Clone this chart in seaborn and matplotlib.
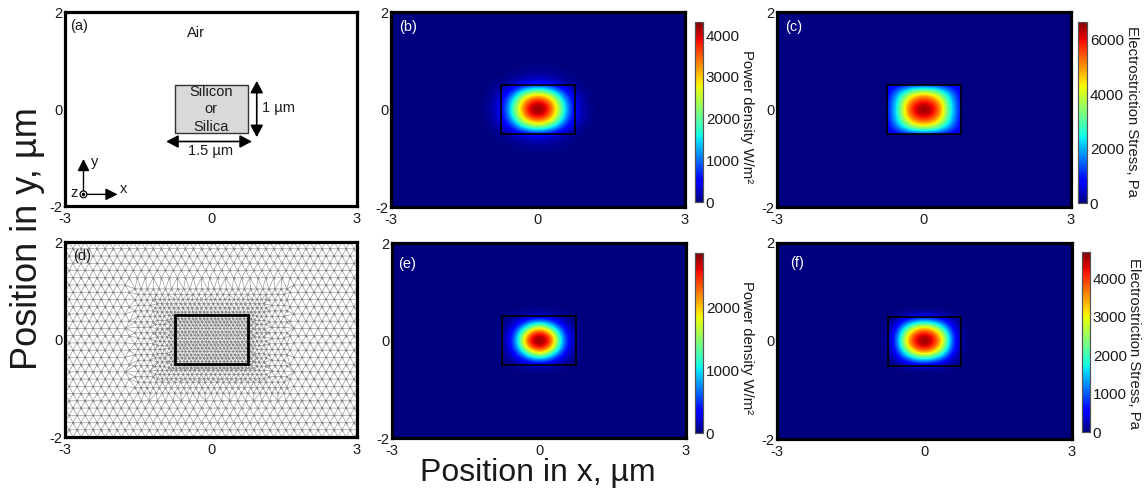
import numpy as np
import pandas as pd
import matplotlib
matplotlib.use("Agg")
import matplotlib.pyplot as plt
import matplotlib.tri as mtri
from matplotlib.patches import Rectangle, Circle
import seaborn as sns

# one quarter of each field, read off the colour rings, fraction of peak
# rows go up in y, columns go right in x, both every 0.125 um from the centre
b_field = [
    [1.00, .970, .850, .660, .450, .240, .120, .050, .020, .005],
    [.950, .910, .790, .610, .410, .220, .110, .050, .020, .005],
    [.760, .720, .630, .480, .300, .170, .090, .040, .015, .003],
    [.470, .440, .370, .270, .170, .100, .050, .020, .008, 0],
    [.140, .130, .110, .090, .060, .030, .020, .007, .002, 0],
    [.050, .050, .040, .030, .020, .010, .005, .002, 0, 0],
    [.020, .020, .015, .010, .008, .004, .002, 0, 0, 0],
    [.005, .005, .004, .003, .002, .001, 0, 0, 0, 0],
]
# (c) stops at the box edge, last row and column repeat the edge colour
c_field = [
    [1.00, .970, .870, .700, .450, .270, .120, .110],
    [.930, .910, .820, .660, .430, .260, .120, .110],
    [.800, .770, .680, .540, .370, .230, .110, .100],
    [.550, .520, .470, .360, .270, .170, .090, .080],
    [.150, .150, .140, .130, .110, .090, .070, .060],
    [.140, .140, .130, .120, .100, .080, .060, .050],
]
e_field = [
    [1.00, .960, .830, .500, .250, .090, .025, .005],
    [.940, .900, .710, .440, .220, .080, .020, .005],
    [.680, .600, .440, .280, .140, .050, .015, .003],
    [.300, .280, .200, .120, .060, .020, .008, 0],
    [.050, .050, .040, .030, .020, .008, .003, 0],
    [.010, .010, .008, .005, .003, 0, 0, 0],
]
f_field = [
    [1.00, .960, .850, .650, .360, .130, .030],
    [.940, .900, .770, .580, .320, .120, .030],
    [.720, .680, .560, .400, .220, .080, .020],
    [.350, .330, .270, .190, .100, .040, .010],
    [.080, .070, .060, .045, .025, .010, .003],
]

peaks = {"b": 4320, "c": 6650, "e": 2860, "f": 4680}
cbar_ticks = {"b": [0, 1000, 2000, 3000, 4000],
              "c": [0, 2000, 4000, 6000],
              "e": [0, 1000, 2000],
              "f": [0, 1000, 2000, 3000, 4000]}
cbar_labels = {"b": "Power density W/m²", "c": "Electrostriction Stress, Pa",
               "e": "Power density W/m²", "f": "Electrostriction Stress, Pa"}

box_w = 1.5
box_h = 1.0
x_range = 3
y_range = 2

# mesh spacing from the outside in, and how far each zone reaches past the box
mesh_steps = [0.165, 0.125, 0.095, 0.075]
mesh_margins = [(0.85, 0.62), (0.42, 0.36), (0.12, 0.12)]

W, H = 1146, 494
STEP = 0.125
NX, NY = 49, 33
FS = 10.5

sns.set_theme(style="white")
plt.rcParams["font.family"] = ["Liberation Sans", "DejaVu Sans"]
plt.rcParams["text.color"] = "#1a1a1a"

fig = plt.figure(figsize=(W / 100, H / 100), dpi=100)


def px_axes(x0, y0, x1, y1):
    return fig.add_axes([x0 / W, 1 - y1 / H, (x1 - x0) / W, (y1 - y0) / H])


def finish_frame(ax, lw=2.3):
    for s in ax.spines.values():
        s.set_visible(True)
        s.set_linewidth(lw)
        s.set_color("black")
    ax.tick_params(length=0, labelsize=FS, colors="#1a1a1a",
                   labelbottom=True, labelleft=True, bottom=True, left=True)
    ax.tick_params(axis="x", pad=4)
    ax.tick_params(axis="y", pad=2)


def to_table(quarter, peak):
    # mirror the quarter into the whole window, the rest stays zero
    grid = np.zeros((NY, NX))
    for j, row in enumerate(quarter):
        for i, v in enumerate(row):
            for sy in (-1, 1):
                for sx in (-1, 1):
                    grid[NY // 2 + sy * j, NX // 2 + sx * i] = v * peak
    return pd.DataFrame(grid)


def field_panel(key, quarter, frame, cbar, tag_xy, label_xy, clip_box=False):
    ax = px_axes(*frame)
    cax = px_axes(*cbar)
    table = to_table(quarter, peaks[key])
    sns.heatmap(table * (0 if clip_box else 1), ax=ax, cbar_ax=cax, cmap="jet", vmin=0, vmax=peaks[key],
                xticklabels=False, yticklabels=False,
                cbar_kws={"ticks": cbar_ticks[key]})

    def cx(v):
        return v / STEP + NX / 2

    def cy(v):
        return NY / 2 - v / STEP

    box = Rectangle((cx(-box_w / 2), cy(box_h / 2)), box_w / STEP, box_h / STEP,
                    fill=False, ec="black", lw=1.2, zorder=5)
    ax.add_patch(box)
    # smooth rendering of the same table over the seaborn cells
    img = ax.imshow(table.values, cmap="jet", vmin=0, vmax=peaks[key], aspect="auto",
                    interpolation="bicubic", extent=(0, NX, NY, 0), zorder=2)
    if clip_box:
        img.set_clip_path(box)

    ax.set_xlim(cx(-x_range), cx(x_range))
    ax.set_ylim(cy(-y_range), cy(y_range))
    ax.set_xticks([cx(-x_range), cx(0), cx(x_range)], ["-3", "0", "3"], rotation=0)
    ax.set_yticks([cy(y_range), cy(0), cy(-y_range)], ["2", "0", "-2"], rotation=0)
    finish_frame(ax)
    fig.text(tag_xy[0] / W, 1 - tag_xy[1] / H, f"({key})", color="white", fontsize=FS,
             ha="center", va="center")

    cax.tick_params(length=2.5, width=0.7, direction="in", labelsize=11, pad=2,
                    right=True, colors="#1a1a1a")
    for s in cax.spines.values():
        s.set_visible(True)
        s.set_color("#555555")
        s.set_linewidth(0.8)
    fig.text(label_xy[0] / W, 1 - label_xy[1] / H, cbar_labels[key], rotation=270,
             fontsize=10.7, ha="center", va="center")


# (a) geometry sketch
ax = px_axes(65, 12, 357, 206)
ax.set_xlim(-x_range, x_range)
ax.set_ylim(-y_range, y_range)
ax.set_xticks([-3, 0, 3], ["-3", "0", "3"])
ax.set_yticks([-2, 0, 2], ["-2", "0", "2"])
finish_frame(ax)
ax.add_patch(Rectangle((-box_w / 2, -box_h / 2), box_w, box_h, fc="#d9d9d9", ec="#333333", lw=1.0))
arrow = dict(arrowstyle="<|-|>,head_width=0.32,head_length=0.6", color="black", lw=1.2,
             shrinkA=0, shrinkB=0)
ax.annotate("", xy=(0.94, 0.58), xytext=(0.94, -0.58), arrowprops=arrow)
ax.annotate("", xy=(-0.92, -0.67), xytext=(0.84, -0.67), arrowprops=arrow)
axis_arrow = dict(arrowstyle="-|>,head_width=0.3,head_length=0.6", color="black", lw=1.0,
                  shrinkA=0, shrinkB=0)
ax.annotate("", xy=(-2.62, -1.03), xytext=(-2.62, -1.76), arrowprops=axis_arrow)
ax.annotate("", xy=(-1.92, -1.76), xytext=(-2.62, -1.76), arrowprops=axis_arrow)
ax.add_patch(Circle((-2.62, -1.76), 0.07, fc="white", ec="black", lw=0.9, zorder=4))
ax.plot([-2.62], [-1.76], "o", color="black", ms=1.6, zorder=5)
for x, y, s in [(-0.31, 1.57, "Air"), (0, 0.35, "Silicon"), (0, 0, "or"), (0, -0.38, "Silica"),
                (1.38, 0.03, "1 µm"), (0, -0.86, "1.5 µm"), (-2.4, -1.1, "y"),
                (-1.79, -1.65, "x"), (-2.81, -1.73, "z"), (-2.72, 1.72, "(a)")]:
    ax.text(x, y, s, fontsize=FS, ha="center", va="center")

# (b), (c), (e), (f) field maps
field_panel("b", b_field, (391, 12, 685, 207), (695, 22, 703, 202), (408, 27), (747, 117))
field_panel("c", c_field, (777, 12, 1071, 207), (1078, 22, 1087, 203), (794, 27), (1132, 111), clip_box=True)
field_panel("e", e_field, (392, 243, 686, 438), (695, 253, 703, 433), (407, 264), (747, 348))
field_panel("f", f_field, (777, 243, 1072, 439), (1082, 252, 1090, 432), (797, 263), (1134, 343))

# (d) mesh, lattice gets finer towards the waveguide box
xs, ys = [], []


def in_zone(xv, yv, margin):
    return abs(xv) < box_w / 2 + margin[0] and abs(yv) < box_h / 2 + margin[1]


def region(step, outer, inner):
    # staggered rows, keep the points between the outer and inner zone
    rows = np.arange(-y_range, y_range + step / 4, step * 0.9)
    for j, yv in enumerate(rows):
        shift = step / 2 if j % 2 else 0
        for xv in np.arange(-x_range + shift, x_range + step / 4, step):
            if (outer is None or in_zone(xv, yv, outer)) and (inner is None or not in_zone(xv, yv, inner)):
                xs.append(xv)
                ys.append(yv)


zones = [None] + mesh_margins + [None]
for i, step in enumerate(mesh_steps):
    region(step, zones[i], zones[i + 1])

ax = px_axes(65, 242, 357, 437)
ax.triplot(mtri.Triangulation(xs, ys), color="#858585", lw=0.4, marker="o", ms=0.5)
ax.set_xlim(-x_range, x_range)
ax.set_ylim(-y_range, y_range)
ax.set_xticks([-3, 0, 3], ["-3", "0", "3"])
ax.set_yticks([-2, 0, 2], ["-2", "0", "2"])
finish_frame(ax)
ax.add_patch(Rectangle((-box_w / 2, -box_h / 2), box_w, box_h, fill=False, ec="black", lw=2.0, zorder=5))
ax.text(-2.64, 1.72, "(d)", fontsize=FS, ha="center", va="center")

fig.text(538 / W, 1 - 473 / H, "Position in x, µm", fontsize=23, ha="center", va="center")
fig.text(28 / W, 1 - 239 / H, "Position in y, µm", fontsize=26, rotation=90, ha="center", va="center")

fig.savefig("out.png", dpi=100)
